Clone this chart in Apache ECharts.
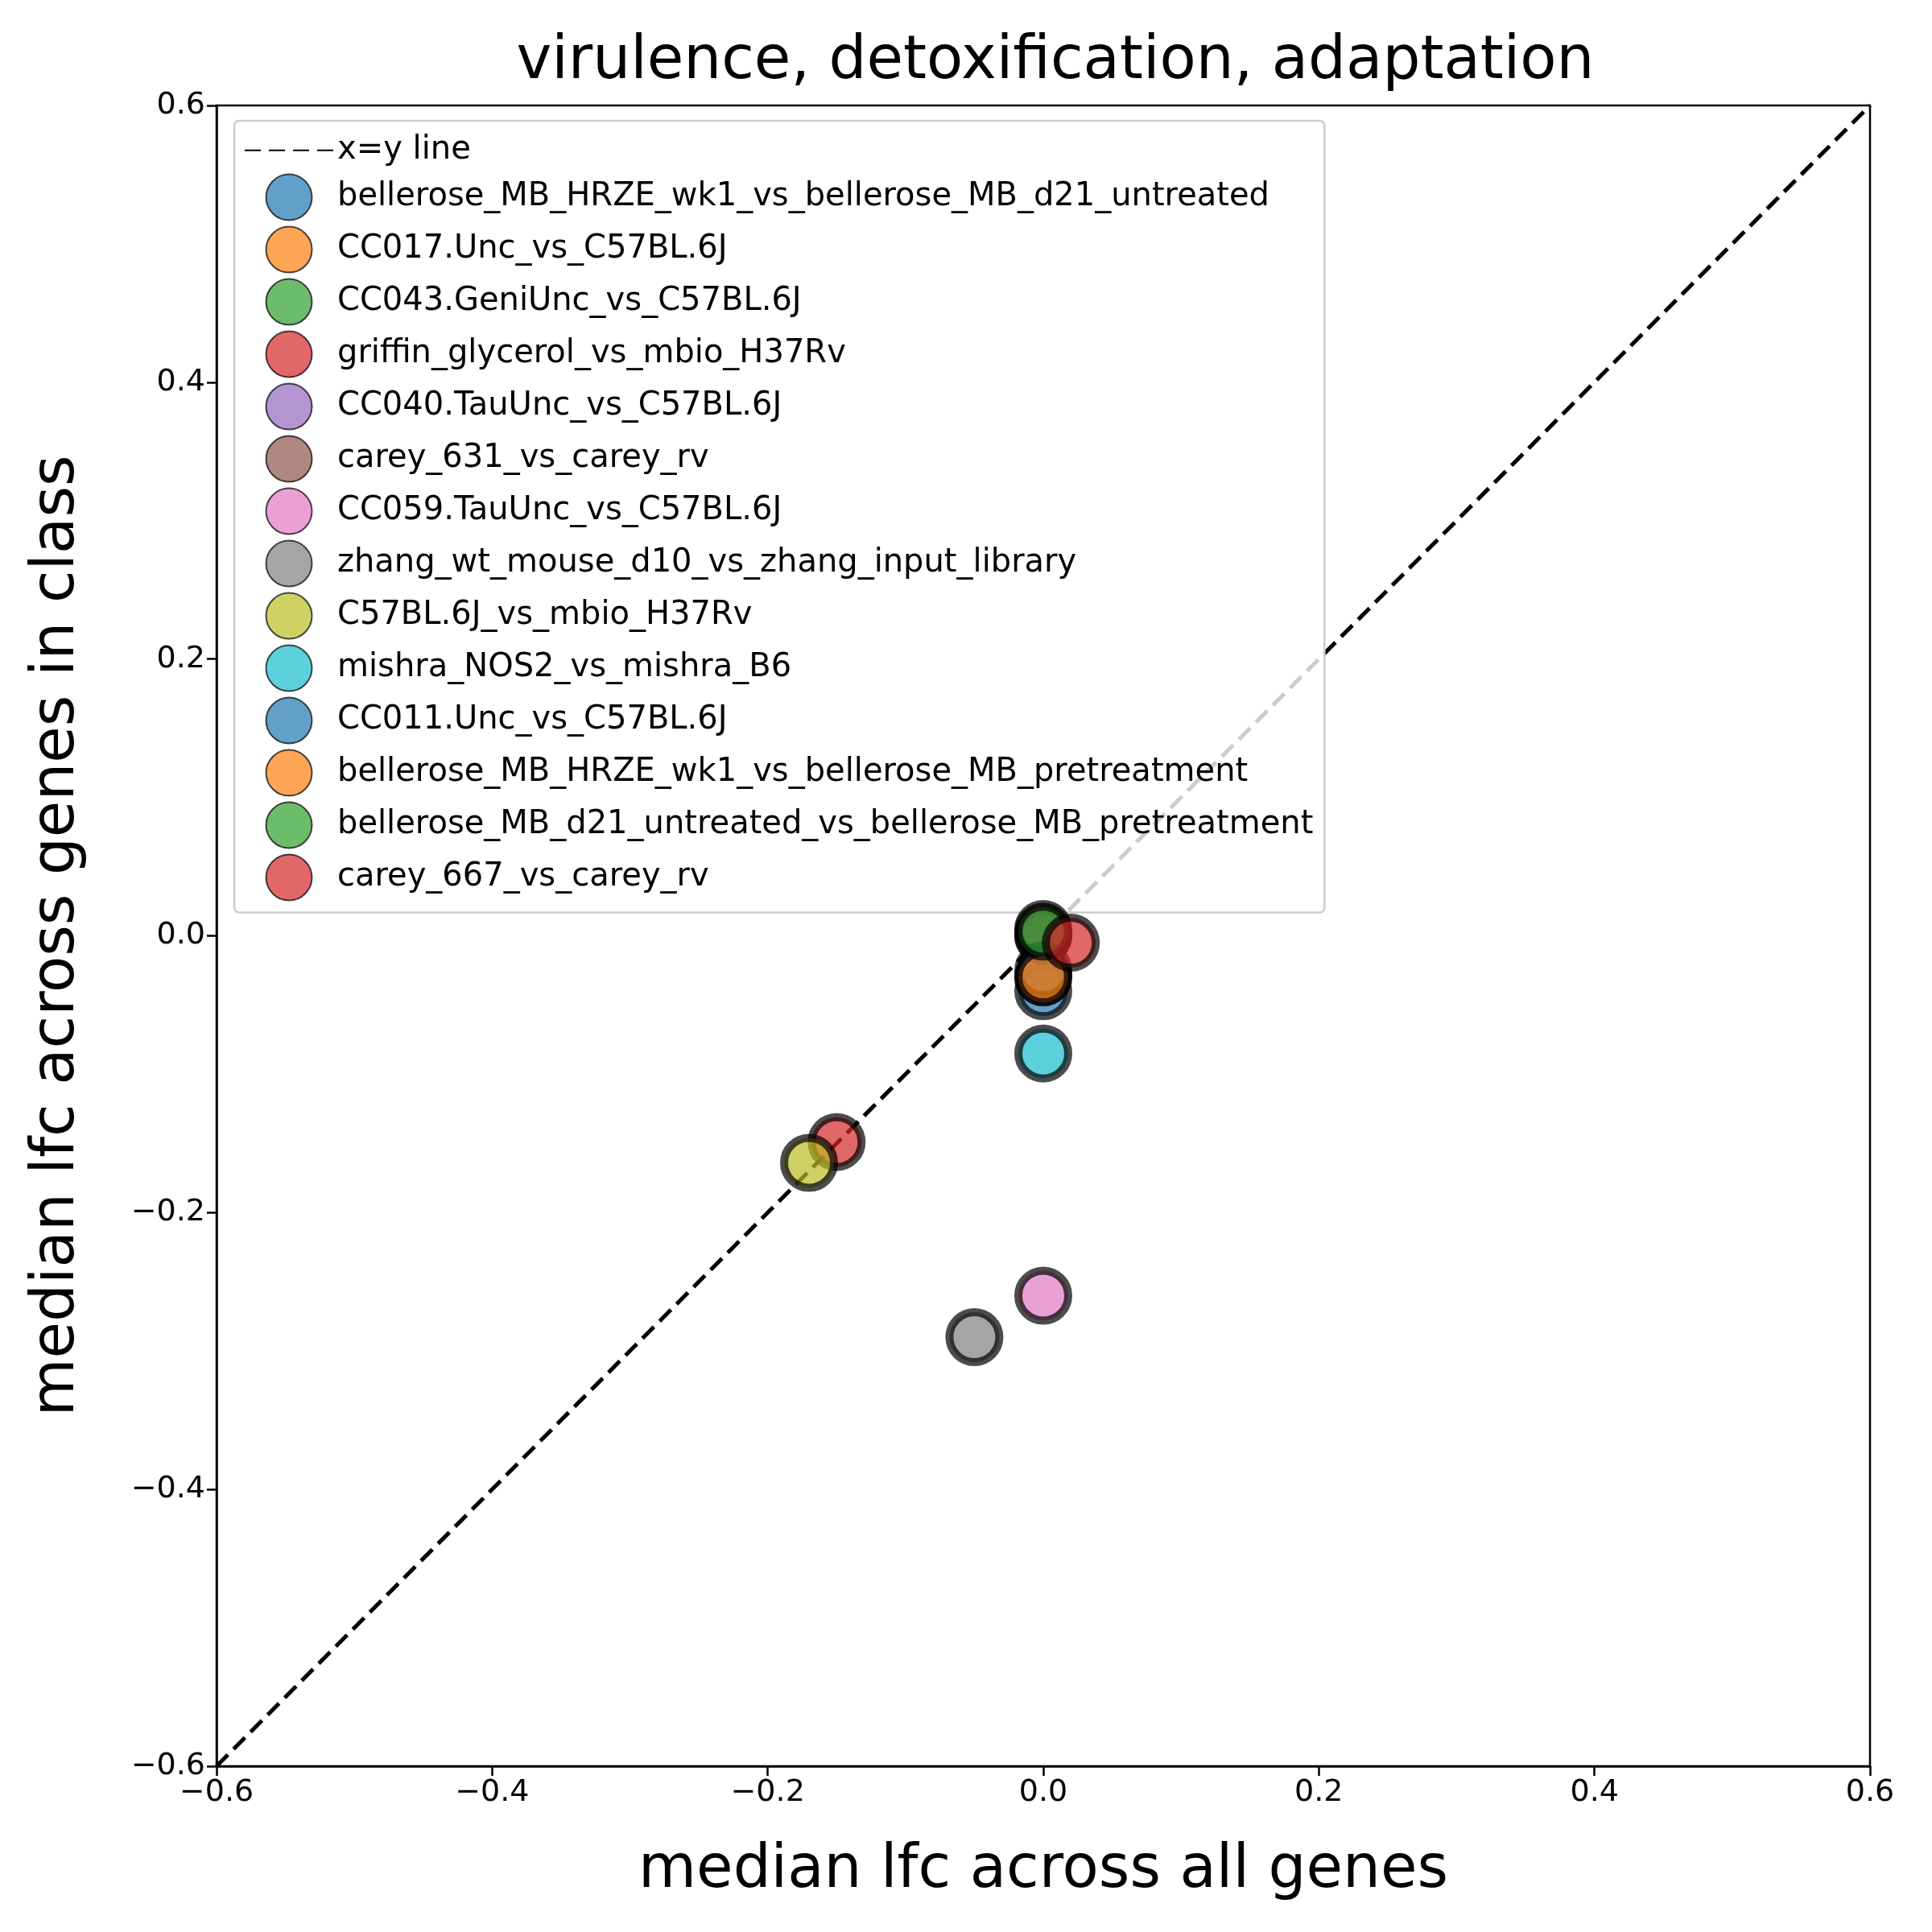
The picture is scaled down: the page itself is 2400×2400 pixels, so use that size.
<!DOCTYPE html>
<html><head><meta charset="utf-8">
<script src="https://cdn.jsdelivr.net/npm/echarts@6/dist/echarts.min.js"></script>
<style>html,body{margin:0;padding:0;background:#fff}#c{width:2400px;height:2400px}</style>
</head><body><div id="c"></div>
<script>
const names = ["bellerose_MB_HRZE_wk1_vs_bellerose_MB_d21_untreated","CC017.Unc_vs_C57BL.6J","CC043.GeniUnc_vs_C57BL.6J","griffin_glycerol_vs_mbio_H37Rv","CC040.TauUnc_vs_C57BL.6J","carey_631_vs_carey_rv","CC059.TauUnc_vs_C57BL.6J","zhang_wt_mouse_d10_vs_zhang_input_library","C57BL.6J_vs_mbio_H37Rv","mishra_NOS2_vs_mishra_B6","CC011.Unc_vs_C57BL.6J","bellerose_MB_HRZE_wk1_vs_bellerose_MB_pretreatment","bellerose_MB_d21_untreated_vs_bellerose_MB_pretreatment","carey_667_vs_carey_rv"];
const xVals = [0.0,0.0,0.0,-0.15,0.0,0.0,0.0,-0.05,-0.17,0.0,0.0,0.0,0.0,0.02];
const yVals = [-0.04,-0.03,0.0,-0.149,0.0,0.005,-0.26,-0.29,-0.164,-0.085,-0.025,-0.03,0.003,-0.005];
const colors = ["#1f77b4","#ff7f0e","#2ca02c","#d62728","#9467bd","#8c564b","#e377c2","#7f7f7f","#bcbd22","#17becf","#1f77b4","#ff7f0e","#2ca02c","#d62728"];
const ticks = [-0.6,-0.4,-0.2,0.0,0.2,0.4,0.6];
const fmt = v => (v<0?"\u2212":"")+Math.abs(v).toFixed(1);
const F = "DejaVu Sans";
const series = [{name:"x=y line",type:"line",data:[[-0.6,-0.6],[0.6,0.6]],symbol:"none",
  lineStyle:{color:"#000",width:5,type:[20,10]},z:1}];
names.forEach((n,i)=>series.push({name:n,type:"scatter",data:[[xVals[i],yVals[i]]],symbolSize:62,
  itemStyle:{color:colors[i],opacity:0.7,borderColor:"#000",borderWidth:10},z:2+i}));
const axisCommon = {min:-0.6,max:0.6,interval:0.2,nameLocation:"middle",
  nameTextStyle:{fontFamily:F,fontSize:74,color:"#000"},
  axisLine:{show:true,onZero:false,lineStyle:{color:"#000",width:2.5}},
  axisTick:{show:true,length:12,lineStyle:{color:"#000",width:2.5}},
  axisLabel:{fontFamily:F,fontSize:38,color:"#000",formatter:fmt,margin:14},
  splitLine:{show:false}};
const chart = echarts.init(document.getElementById("c"));
chart.setOption({
  animation:false,backgroundColor:"#fff",
  title:{text:"virulence, detoxification, adaptation",left:1306,textAlign:"center",top:36,
    textStyle:{fontFamily:F,fontSize:74,fontWeight:"normal",color:"#000"}},
  grid:{left:269,right:77,top:131,bottom:206,show:true,borderColor:"#000",borderWidth:2.5,backgroundColor:"transparent"},
  xAxis:Object.assign({},axisCommon,{type:"value",name:"median lfc across all genes",nameGap:94}),
  yAxis:Object.assign({},axisCommon,{type:"value",name:"median lfc across genes in class",nameGap:160}),
  legend:{orient:"vertical",left:291,top:150,padding:[14,14,14,12],itemGap:6,itemWidth:110,itemHeight:57,
    backgroundColor:"rgba(255,255,255,0.8)",borderColor:"#ccc",borderWidth:2.5,borderRadius:6,
    textStyle:{fontFamily:F,fontSize:40,color:"#000"},
    data:[{name:"x=y line",itemStyle:{opacity:0}}].concat(names.map(n=>({name:n,icon:"circle"})))},
  series:series
});
</script></body></html>
